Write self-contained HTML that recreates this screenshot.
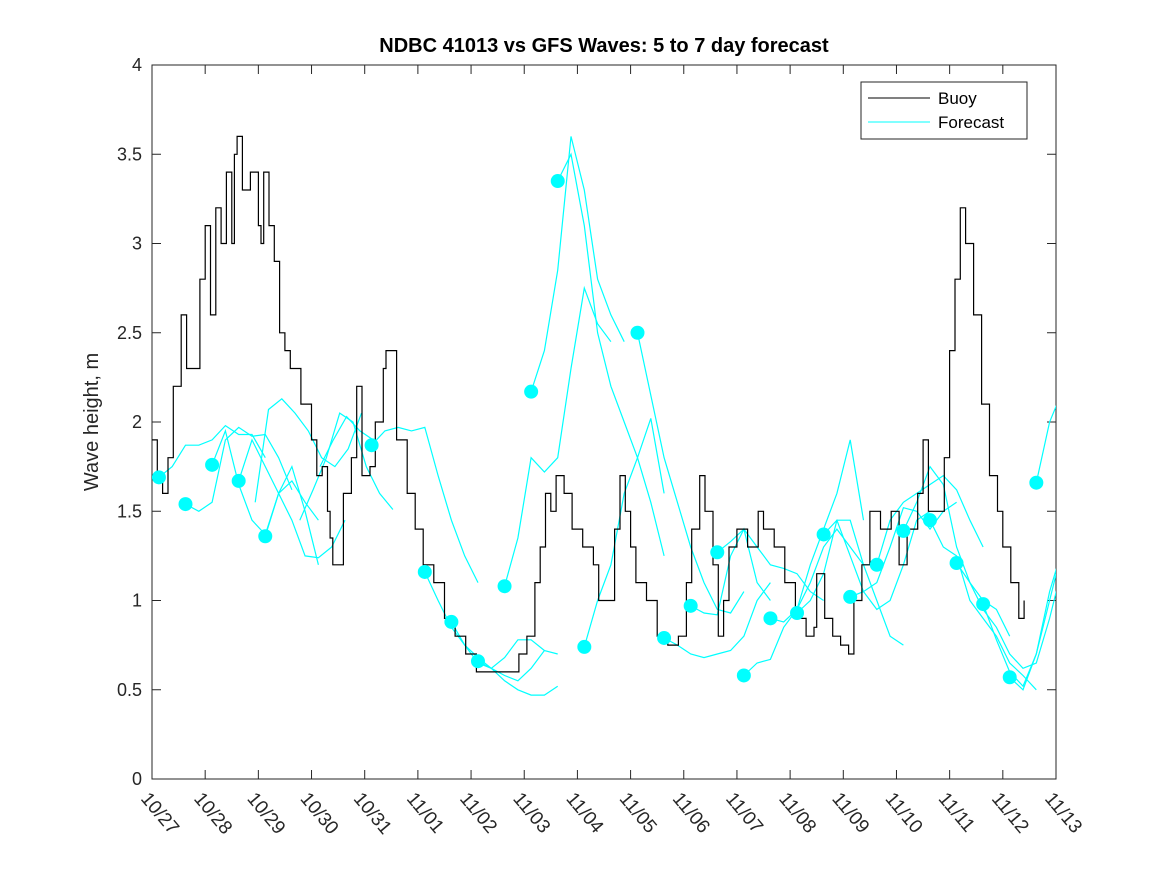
<!DOCTYPE html>
<html><head><meta charset="utf-8"><style>
body{margin:0;background:#fff}
svg{display:block;font-family:"Liberation Sans","DejaVu Sans",sans-serif}
</style></head><body>
<svg id="chart" width="1167" height="875" viewBox="0 0 1167 875" xmlns="http://www.w3.org/2000/svg">
<rect width="1167" height="875" fill="#fff"/>
<defs><clipPath id="pc"><rect x="152" y="65" width="904" height="714"/></clipPath></defs>
<text x="604" y="52" text-anchor="middle" font-size="20" font-weight="bold" fill="#000">NDBC 41013 vs GFS Waves: 5 to 7 day forecast</text>
<text transform="translate(98,422) rotate(-90)" text-anchor="middle" font-size="20" fill="#262626">Wave height, m</text>
<g id="axes"></g>
<g id="series" clip-path="url(#pc)"></g>
<g id="legend">
<rect x="861" y="82" width="166" height="57" fill="#fff" stroke="#262626" stroke-width="1"/>
<line x1="868" y1="98" x2="930" y2="98" stroke="#000"/>
<text x="938" y="104" font-size="17" fill="#000">Buoy</text>
<line x1="868" y1="122" x2="930" y2="122" stroke="#00ffff"/>
<text x="938" y="128" font-size="17" fill="#000">Forecast</text>
</g>
</svg>
<script>
const xTickLabels=["10/27","10/28","10/29","10/30","10/31","11/01","11/02","11/03","11/04","11/05","11/06","11/07","11/08","11/09","11/10","11/11","11/12","11/13"];
const yTicks=[0,0.5,1,1.5,2,2.5,3,3.5,4];
const buoyDays=[0,0.1,0.2,0.3,0.4,0.55,0.65,0.75,0.9,1.0,1.1,1.2,1.3,1.4,1.5,1.55,1.6,1.7,1.85,2.0,2.05,2.1,2.2,2.3,2.4,2.5,2.6,2.8,3.0,3.1,3.2,3.3,3.35,3.4,3.6,3.75,3.85,3.95,4.1,4.2,4.35,4.4,4.6,4.8,4.95,5.1,5.3,5.5,5.7,5.9,6.0,6.1,6.8,6.9,7.05,7.2,7.3,7.4,7.5,7.6,7.75,7.9,8.1,8.3,8.4,8.5,8.7,8.8,8.9,9.0,9.1,9.3,9.5,9.7,9.9,10.05,10.15,10.3,10.4,10.55,10.65,10.75,10.85,11.0,11.2,11.4,11.5,11.7,11.9,12.1,12.3,12.45,12.5,12.65,12.8,12.95,13.1,13.2,13.35,13.5,13.7,13.9,14.05,14.2,14.4,14.5,14.6,14.75,14.9,15.0,15.1,15.2,15.3,15.35,15.45,15.6,15.75,15.9,16.0,16.15,16.3,16.4];
const buoyVals=[1.9,1.7,1.6,1.8,2.2,2.6,2.3,2.3,2.8,3.1,2.6,3.2,3.0,3.4,3.0,3.5,3.6,3.3,3.4,3.1,3.0,3.4,3.1,2.9,2.5,2.4,2.3,2.1,1.9,1.7,1.75,1.5,1.35,1.2,1.6,1.8,2.2,1.7,1.75,2.0,2.3,2.4,1.9,1.6,1.4,1.2,1.1,0.9,0.8,0.7,0.7,0.6,0.6,0.7,0.8,1.1,1.3,1.6,1.5,1.7,1.6,1.4,1.3,1.2,1.0,1.0,1.4,1.7,1.5,1.3,1.1,1.0,0.8,0.75,0.8,1.1,1.4,1.7,1.5,1.2,0.8,1.0,1.3,1.4,1.3,1.5,1.4,1.3,1.1,0.9,0.8,0.85,1.15,0.9,0.8,0.75,0.7,1.0,1.2,1.5,1.4,1.5,1.2,1.4,1.6,1.9,1.5,1.5,1.8,2.4,2.8,3.2,3.0,3.0,2.6,2.1,1.7,1.5,1.3,1.1,0.9,1.0];
const fcStart=[0.13,0.63,1.13,1.63,1.94,2.13,2.78,3.16,4.13,5.13,5.63,6.13,6.63,7.13,7.63,8.13,9.13,9.63,10.13,10.63,11.13,11.63,12.13,12.63,13.13,13.63,14.13,14.63,15.13,15.63,16.13,16.63];
const fcVals=[
[1.69,1.75,1.87,1.87,1.90,1.98,1.93,1.93,1.80],
[1.54,1.50,1.55,1.90,1.97,1.92,1.93,1.80,1.62],
[1.76,1.95,1.65,1.45,1.37,1.60,1.67,1.55,1.45],
[1.67,1.90,1.75,1.60,1.45,1.25,1.24,1.30,1.45],
[1.55,2.07,2.13,2.05,1.95,1.80,1.75,1.85,2.05],
[1.36,1.60,1.75,1.50,1.20],
[1.45,1.62,1.80,2.05,2.00,1.75,1.60,1.51],
[1.75,1.90,2.03,1.95,1.90],
[1.87,1.95,1.97,1.95,1.97,1.70,1.45,1.25,1.10],
[1.16,1.00,0.85,0.75,0.68,0.62,0.55,0.50,0.47,0.47,0.52],
[0.88,0.75,0.65,0.62,0.58,0.55,0.62,0.72,0.70],
[0.66,0.62,0.68,0.78,0.78,0.72],
[1.08,1.35,1.80,1.72,1.80,2.30,2.75,2.55,2.45],
[2.17,2.40,2.85,3.60,3.30,2.80,2.60,2.45],
[3.35,3.50,3.10,2.50,2.20,2.00,1.80,1.55,1.25],
[0.74,1.00,1.20,1.60,1.80,2.02,1.60],
[2.50,2.15,1.80,1.55,1.30,1.10,0.95,0.93,1.05],
[0.79,0.75,0.70,0.68,0.70,0.72,0.80,1.00,1.10],
[0.97,0.93,0.92,1.25,1.40,1.10,1.00],
[1.27,1.33,1.40,1.30,1.20,1.18,1.15,1.05,1.00],
[0.58,0.65,0.67,0.85,0.95,1.20,1.40,1.60,1.90,1.45],
[0.90,0.88,0.95,1.10,1.30,1.40,1.30,1.20,1.20],
[0.93,1.00,1.15,1.45,1.45,1.20,1.00,0.80,0.75],
[1.37,1.45,1.25,1.05,0.95,1.00,1.20,1.45,1.50],
[1.02,1.05,1.10,1.30,1.52,1.50,1.40,1.50,1.55],
[1.20,1.45,1.55,1.60,1.65,1.70,1.62,1.45,1.30],
[1.39,1.55,1.75,1.65,1.30,1.10,1.00,0.95,0.80],
[1.45,1.30,1.25,1.00,0.90,0.80,0.65,0.58,0.50],
[1.21,1.10,0.95,0.85,0.70,0.62,0.65,0.90,1.20],
[0.98,0.78,0.60,0.52,0.70,1.05,1.30,1.55,1.70],
[0.57,0.50,0.70,1.00,1.30,1.55,1.74],
[1.66,2.00,2.18,2.12]];
const dotDays=[0.13,0.63,1.13,1.63,2.13,4.13,5.13,5.63,6.13,6.63,7.13,7.63,8.13,9.13,9.63,10.13,10.63,11.13,11.63,12.13,12.63,13.13,13.63,14.13,14.63,15.13,15.63,16.13,16.63];
const dotVals=[1.69,1.54,1.76,1.67,1.36,1.87,1.16,0.88,0.66,1.08,2.17,3.35,0.74,2.5,0.79,0.97,1.27,0.58,0.90,0.93,1.37,1.02,1.20,1.39,1.45,1.21,0.98,0.57,1.66];

const NS="http://www.w3.org/2000/svg";
const X0=152,X1=1056,Y0=779,Y1=65;
const xs=d=>X0+d*(X1-X0)/17;
const ys=v=>Y0-v*(Y0-Y1)/4;
function mk(t,a,p){const e=document.createElementNS(NS,t);for(const k in a)e.setAttribute(k,a[k]);p.appendChild(e);return e;}
const ax=document.getElementById('axes'),se=document.getElementById('series');
const frame=mk('rect',{x:X0,y:Y1,width:X1-X0,height:Y0-Y1,fill:'none',stroke:'#262626','stroke-width':1},ax);


yTicks.forEach(v=>{const y=ys(v);
 mk('line',{x1:X0,y1:y,x2:X0+9,y2:y,stroke:'#262626'},ax);
 mk('line',{x1:X1,y1:y,x2:X1-9,y2:y,stroke:'#262626'},ax);
 const t=mk('text',{x:X0-10,y:y+6,'text-anchor':'end','font-size':18,fill:'#262626'},ax);
 t.textContent=String(v);
 
 
});
xTickLabels.forEach((l,i)=>{const x=xs(i);
 mk('line',{x1:x,y1:Y0,x2:x,y2:Y0-9,stroke:'#262626'},ax);
 mk('line',{x1:x,y1:Y1,x2:x,y2:Y1+9,stroke:'#262626'},ax);
 const t=mk('text',{transform:`translate(${x-12},${Y0+20}) rotate(50)`,'font-size':19,fill:'#262626'},ax);
 t.textContent=l;
 
 
});
fcVals.forEach((vals,i)=>{
 const pts=vals.map((v,j)=>xs(fcStart[i]+j*0.25).toFixed(1)+','+ys(v).toFixed(1)).join(' ');
 const p=mk('polyline',{points:pts,fill:'none',stroke:'#00ffff','stroke-width':1.2},se);
 
 
});
let bp=[];
buoyDays.forEach((d,i)=>{
 if(i>0) bp.push(xs(d).toFixed(1)+','+ys(buoyVals[i-1]).toFixed(1));
 bp.push(xs(d).toFixed(1)+','+ys(buoyVals[i]).toFixed(1));
});
const b=mk('polyline',{points:bp.join(' '),fill:'none',stroke:'#000','stroke-width':1.2},se);


dotDays.forEach((d,i)=>{
 const c=mk('circle',{cx:xs(d),cy:ys(dotVals[i]),r:7,fill:'#00ffff'},se);
 
 
});
</script>
</body></html>
